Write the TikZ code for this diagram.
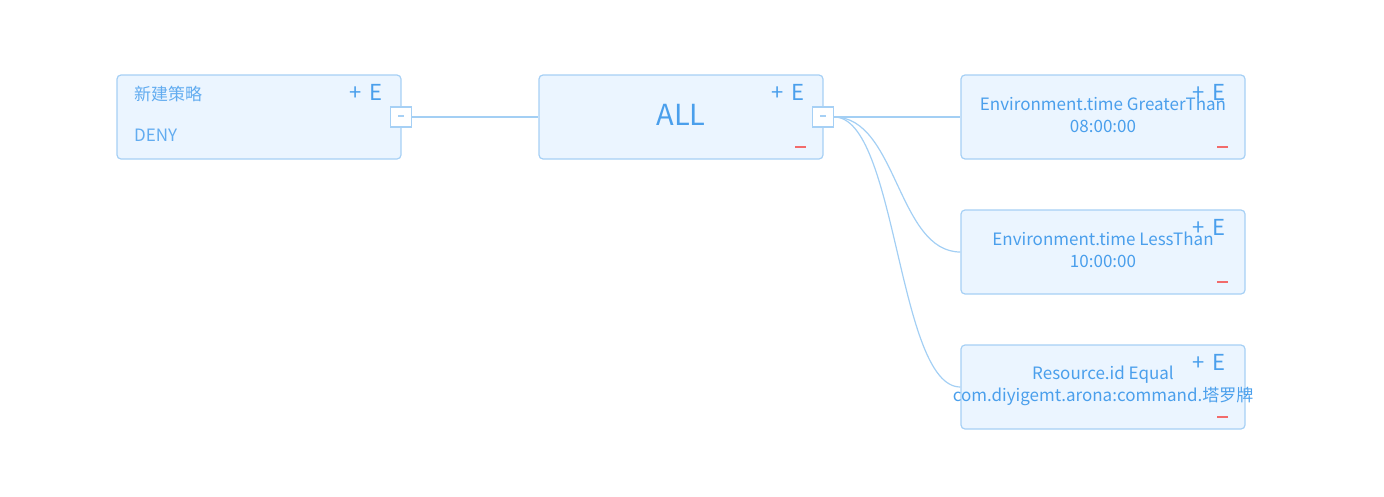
\documentclass[tikz,border=0pt]{standalone}
\usepackage{fontspec}
\setmainfont{Noto Sans CJK SC}
\definecolor{boxfill}{HTML}{EBF5FF}
\definecolor{boxline}{HTML}{A6D0F5}
\definecolor{txtblue}{HTML}{4A9FEC}
\definecolor{txtlight}{HTML}{62ACF0}
\definecolor{minusred}{HTML}{F26B6B}
\definecolor{linkcol}{HTML}{A3CFF4}
\begin{document}
\begin{tikzpicture}[x=1pt,y=-1pt,
  box/.style={draw=boxline,fill=boxfill,line width=1.2pt,rounded corners=4pt,minimum width=284pt,minimum height=84pt,inner sep=0pt},
  sq/.style={draw=boxline,fill=white,line width=1.2pt,minimum width=21pt,minimum height=20pt,inner sep=0pt},
  link/.style={draw=linkcol,line width=1.2pt},
  lbl/.style={text=txtblue,font=\fontsize{17}{22.5}\selectfont,align=center,inner sep=0pt},
  pe/.style={text=txtblue,font=\fontsize{22}{24}\selectfont,inner sep=0pt},
  mi/.style={fill=minusred,minimum width=11pt,minimum height=2.6pt,inner sep=0pt}
]
\useasboundingbox (0,0) rectangle (1384,496);
% boxes
\node[box] (n1) at (259,117) {};
\node[box] (n2) at (681,117) {};
\node[box] (n3) at (1103,117) {};
\node[box] (n4) at (1103,252) {};
\node[box] (n5) at (1103,387) {};
% collapse squares
\node[sq] (c1) at (401,117) {};
\node[sq] (c2) at (823,117) {};
\node[fill=boxline,minimum width=6pt,minimum height=1.2pt,inner sep=0pt] (d1) at (401,116) {};
\node[fill=boxline,minimum width=6pt,minimum height=1.2pt,inner sep=0pt] (d2) at (823,116) {};
% links
\draw[link] (c1.east) -- (n2.west);
\draw[link] (c2.east) -- (n3.west);
\draw[link] (c2.east) .. controls +(63,0) and +(-63,0) .. (n4.west);
\draw[link] (c2.east) .. controls +(63,0) and +(-63,0) .. (n5.west);
% box 1
\node[lbl,text=txtlight,anchor=west] (t1a) at (134,94) {新建策略};
\node[lbl,text=txtlight,anchor=west] (t1b) at (134,135) {DENY};
\node[pe] (p1) at (366,92) {+\,\,E};
% box 2
\node[text=txtblue,font=\fontsize{29}{30}\selectfont,inner sep=0pt] (t2) at (681,115) {ALL};
\node[pe] (p2) at (788,92) {+\,\,E};
\node[mi] (m2) at (800,147) {};
% box 3
\node[lbl] (t3) at (1103,115) {Environment.time GreaterThan\\08:00:00};
\node[pe] (p3) at (1209,92) {+\,\,E};
\node[mi] (m3) at (1222,147) {};
% box 4
\node[lbl] (t4) at (1103,250) {Environment.time LessThan\\10:00:00};
\node[pe] (p4) at (1209,227) {+\,\,E};
\node[mi] (m4) at (1222,282) {};
% box 5
\node[lbl] (t5) at (1103,386) {Resource.id Equal\\com.diyigemt.arona:command.塔罗牌};
\node[pe] (p5) at (1209,362) {+\,\,E};
\node[mi] (m5) at (1222,417) {};
\end{tikzpicture}
\end{document}
